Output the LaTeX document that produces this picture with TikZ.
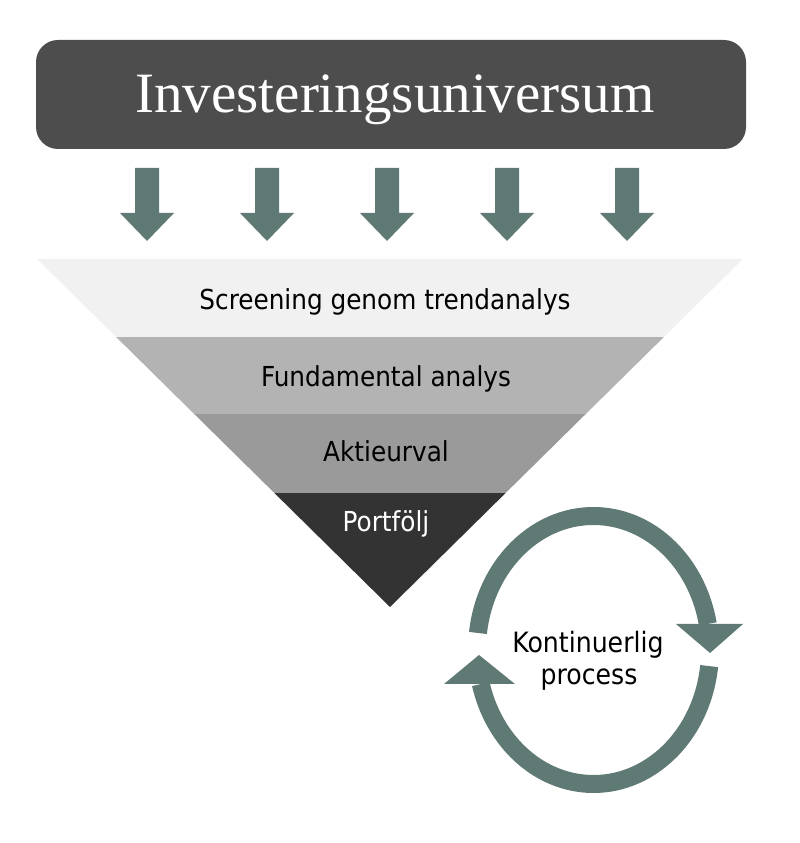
\documentclass[tikz,border=0pt]{standalone}
\usepackage{fontspec}
\setmainfont{DejaVu Sans Condensed}
\newfontfamily\titlefont{Liberation Serif}
\usepackage{tikz}

\definecolor{boxgray}{HTML}{4D4D4D}
\definecolor{arrowgreen}{HTML}{5F7A74}
\definecolor{bandone}{HTML}{F1F1F1}
\definecolor{bandtwo}{HTML}{B3B3B3}
\definecolor{bandthree}{HTML}{9A9A9A}
\definecolor{bandfour}{HTML}{333333}

\begin{document}
\begin{tikzpicture}[x=1pt, y=1pt]

    \def\ringc{593.5,193}
    \colorlet{arrowcolor}{arrowgreen}

    \useasboundingbox (0,0) rectangle (800,843);

    \fill[boxgray, rounded corners=22pt] (36,694) rectangle (746,803);
    \node[anchor=base, text=white, font=\titlefont\fontsize{57}{60}\selectfont] (title) at (395,730) {Investeringsuniversum};

    \foreach \x in {147,267,387,507,627}
        \fill[arrowcolor] (\x-12,675) -- (\x+12,675) -- (\x+12,630) -- (\x+27,630)
                          -- (\x,602) -- (\x-27,630) -- (\x-12,630) -- cycle;

    \begin{scope}
        \clip (37,584) -- (743,584) -- (390,236) -- cycle;
        \fill[bandone]   (0,506) rectangle (800,600);
        \fill[bandtwo]   (0,429) rectangle (800,506);
        \fill[bandthree] (0,350) rectangle (800,429);
        \fill[bandfour]  (0,200) rectangle (800,350);
    \end{scope}

    \node[anchor=base, font=\fontsize{27.5}{30}\selectfont] (screen) at (385,533) {Screening genom trendanalys};
    \node[anchor=base, font=\fontsize{27.5}{30}\selectfont] (fund) at (386,456) {Fundamental analys};
    \node[anchor=base, font=\fontsize{27.5}{30}\selectfont] (aktie) at (386,381) {Aktieurval};
    \node[anchor=base, text=white, font=\fontsize{27.5}{30}\selectfont] (portf) at (386,311) {Portfölj};

    \draw[arrowcolor, line width=18pt] (\ringc) ++(172.7:116.5 and 134)
        arc[start angle=172.7, end angle=11.2, x radius=116.5, y radius=134];
    \fill[arrowcolor] (676,219) -- (743,219) -- (710,190) -- cycle;
    \draw[arrowcolor, line width=18pt] (\ringc) ++(-6.9:116.5 and 134)
        arc[start angle=-6.9, end angle=-165.3, x radius=116.5, y radius=134];
    \fill[arrowcolor] (444,159) -- (515,159) -- (479,188) -- cycle;

    \node[anchor=base, font=\fontsize{28}{30}\selectfont] (cont) at (588,190) {Kontinuerlig};
    \node[anchor=base, font=\fontsize{28}{30}\selectfont] (proc) at (589,158) {process};
\end{tikzpicture}
\end{document}
